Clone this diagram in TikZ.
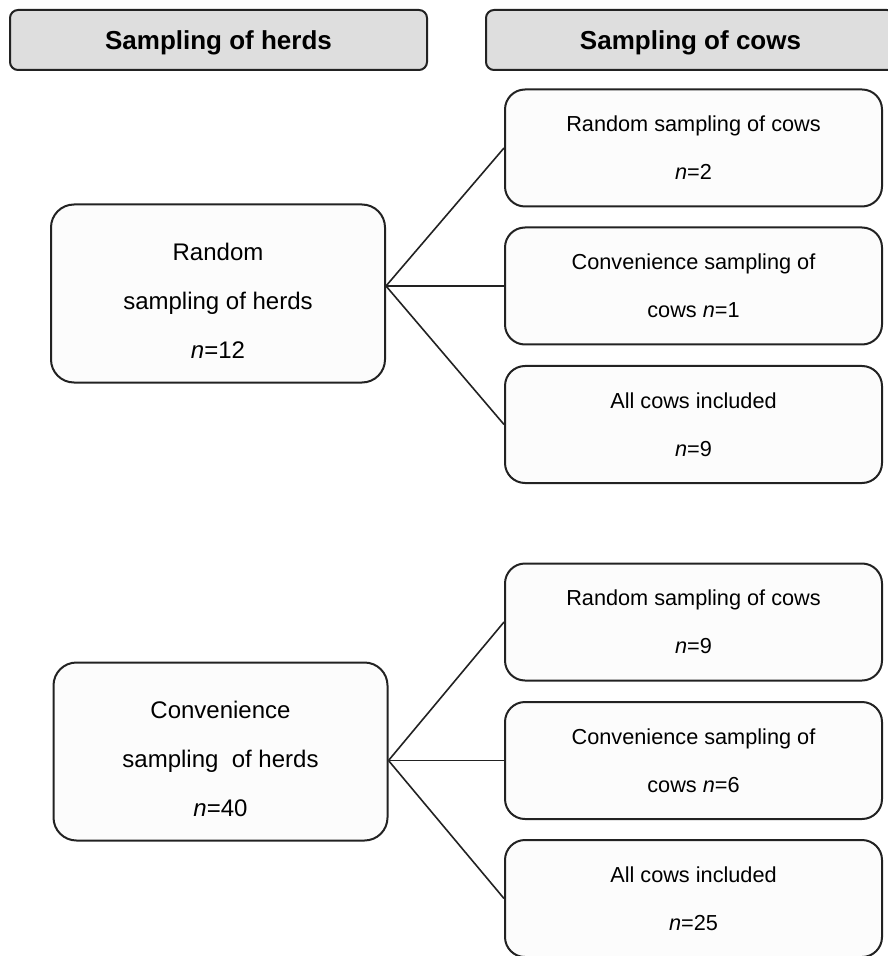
\documentclass[tikz,border=0pt]{standalone}
\usepackage{fontspec}
\setmainfont{Liberation Sans}
\usepackage{tikz}
\definecolor{headgray}{RGB}{222,222,222}
\definecolor{boxline}{RGB}{34,34,34}
\definecolor{boxfill}{RGB}{252,252,252}
\tikzstyle{headbox}=[draw=boxline, line width=1pt, fill=headgray,
   rounded corners=4pt, minimum height=30pt, inner sep=0pt, text depth=0pt,
   font=\fontsize{13}{15}\selectfont\bfseries]
\tikzstyle{herdbox}=[draw=boxline, line width=1pt, fill=boxfill,
   rounded corners=11.5pt, minimum width=167pt, minimum height=89pt,
   inner sep=0pt, align=center, font=\fontsize{12}{24.5}\selectfont,
   text height=65pt, text depth=0pt]
\tikzstyle{cowbox}=[draw=boxline, line width=1pt, fill=boxfill,
   rounded corners=10pt, minimum width=188.5pt, minimum height=58.5pt,
   inner sep=0pt, align=center, font=\fontsize{10.85}{24}\selectfont]
\tikzset{branch/.style={draw=boxline, line width=0.8pt}}

\begin{document}
\begin{tikzpicture}[x=0.5pt,y=-0.5pt]
  \useasboundingbox (0,0) rectangle (887,956);
  \node[headbox, minimum width=208.5pt] (hd-herds) at (218.5,40) {Sampling of herds};
  \node[headbox, minimum width=204.5pt] (hd-cows) at (690.5,40) {Sampling of cows};
  % random herds
  \node[herdbox] (rh) at (218,293.5) {Random\\sampling of herds\\\textit{n}=12};
  \node[cowbox] (rh-rand) at (693.5,148) {Random sampling of cows\\\textit{n}=2};
  \node[cowbox] (rh-conv) at (693.5,286) {Convenience sampling of\\cows \textit{n}=1};
  \node[cowbox] (rh-all) at (693.5,424.5) {All cows included\\\textit{n}=9};
  % convenience herds
  \node[herdbox] (ch) at (220.5,751.5) {Convenience\\sampling~ of herds\\\textit{n}=40};
  \node[cowbox] (ch-rand) at (693.5,622) {Random sampling of cows\\\textit{n}=9};
  \node[cowbox] (ch-conv) at (693.5,760.5) {Convenience sampling of\\cows \textit{n}=6};
  \node[cowbox] (ch-all) at (693.5,898.5) {All cows included\\\textit{n}=25};
  \foreach \herd in {rh,ch}
    \foreach \cows in {rand,conv,all}
      \draw[branch] (\herd.east |- \herd-conv) -- (\herd-\cows.west);
\end{tikzpicture}
\end{document}
